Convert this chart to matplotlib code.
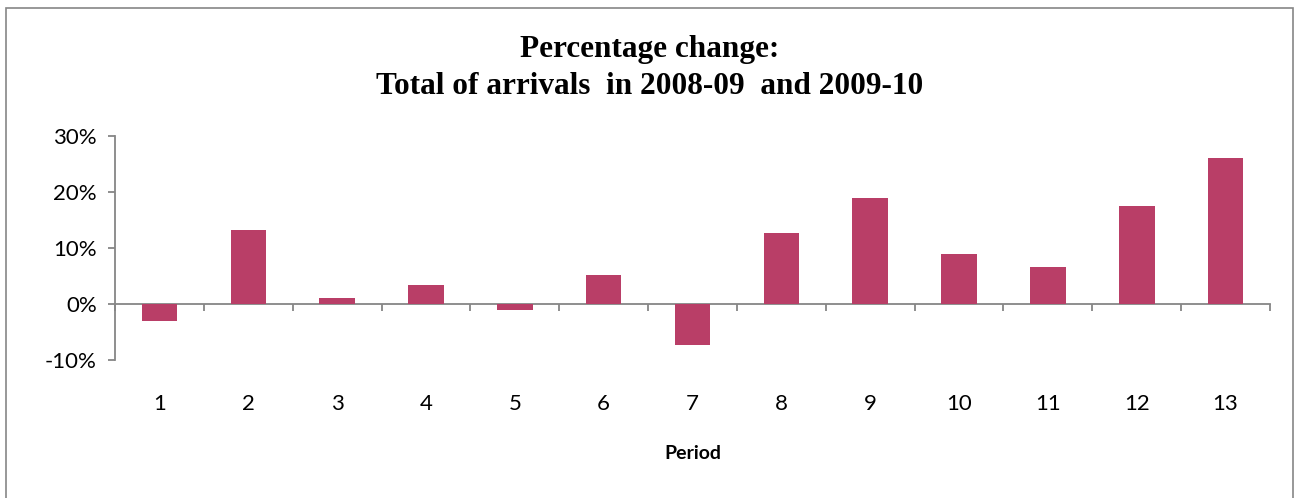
import matplotlib.pyplot as plt
from matplotlib.patches import Rectangle
from matplotlib.ticker import FuncFormatter, FixedLocator

# data
periods = list(range(1, 14))
pct_change = [-3.0, 13.2, 1.1, 3.4, -1.1, 5.2, -7.3, 12.7, 19.0, 9.0, 6.6, 17.5, 26.1]

bar_color = "#B93E67"
axis_color = "#868686"

fig = plt.figure(figsize=(13, 4.98), dpi=100)
ax = fig.add_axes([115 / 1300, 1 - 360 / 498, (1270 - 115) / 1300, (360 - 136) / 498])

ax.bar(periods, pct_change, width=0.4, color=bar_color, zorder=3)

ax.set_xlim(0.5, 13.5)
ax.set_ylim(-10, 30)
ax.set_yticks([-10, 0, 10, 20, 30])
ax.yaxis.set_major_formatter(FuncFormatter(lambda v, p: f"{v:.0f}%"))

for s in ["top", "right"]:
    ax.spines[s].set_visible(False)
ax.spines["left"].set_color(axis_color)
ax.spines["left"].set_linewidth(1.3)
ax.spines["bottom"].set_position(("data", 0))
ax.spines["bottom"].set_color(axis_color)
ax.spines["bottom"].set_linewidth(1.3)

ax.set_xticks(periods)
ax.xaxis.set_minor_locator(FixedLocator([p - 0.5 for p in periods] + [13.5]))
ax.tick_params(axis="x", which="major", length=0, pad=65, labelsize=16)
ax.tick_params(axis="x", which="minor", length=5, width=1.3, color=axis_color, direction="out")
ax.tick_params(axis="y", length=5, width=1.3, color=axis_color, pad=8, labelsize=16)
for lbl in ax.get_xticklabels() + ax.get_yticklabels():
    lbl.set_family(["Lato", "DejaVu Sans"])

fig.text(693 / 1300, 1 - 453 / 498, "Period", ha="center", va="center",
         fontsize=14, fontweight="bold", family=["Lato", "DejaVu Sans"])

fig.text(0.5, 1 - 50 / 498, "Percentage change:", ha="center", va="center",
         fontsize=22.5, fontweight="bold", family="Liberation Serif")
fig.text(0.5, 1 - 86 / 498, "Total of arrivals  in 2008-09  and 2009-10", ha="center", va="center",
         fontsize=22.5, fontweight="bold", family="Liberation Serif")

# chart border
fig.patches.append(Rectangle((6 / 1300, -0.05), (1293 - 6) / 1300, 1.05 - 8 / 498,
                             transform=fig.transFigure, fill=False,
                             edgecolor=axis_color, linewidth=1.2))

fig.savefig("out.png", dpi=100)
